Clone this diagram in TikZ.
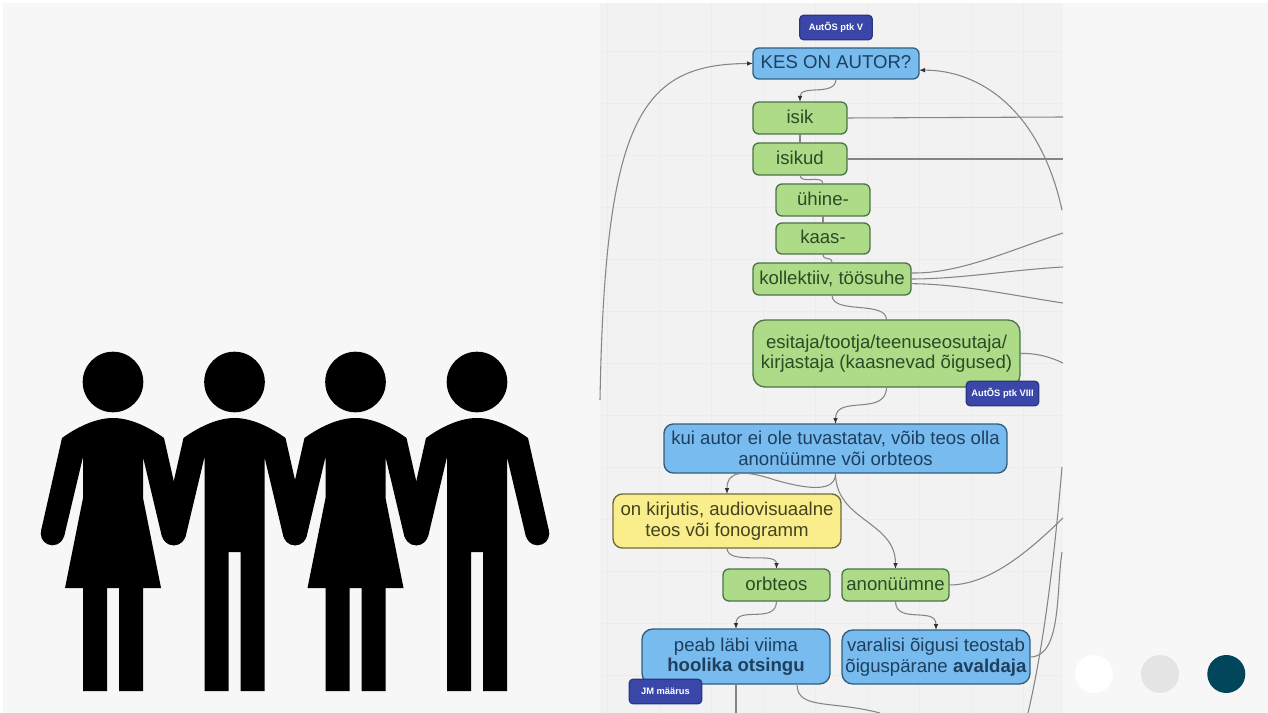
\documentclass[tikz,border=0pt]{standalone}
\usepackage{fontspec}
\setmainfont{Liberation Sans}
\usetikzlibrary{arrows.meta}
\definecolor{pagebg}{HTML}{F7F7F7}
\definecolor{panelbg}{HTML}{F2F2F2}
\definecolor{gridmajor}{HTML}{ECECEC}
\definecolor{blueF}{HTML}{78BBEF}
\definecolor{blueD}{HTML}{2F5F80}
\definecolor{blueT}{HTML}{1E3F5E}
\definecolor{greenF}{HTML}{AEDB87}
\definecolor{greenD}{HTML}{4D7348}
\definecolor{greenT}{HTML}{2B4A26}
\definecolor{yellowF}{HTML}{F9EE8B}
\definecolor{yellowD}{HTML}{6F6A3D}
\definecolor{yellowT}{HTML}{45431F}
\definecolor{badgeF}{HTML}{3B47A8}
\definecolor{badgeD}{HTML}{2C3580}
\definecolor{connC}{HTML}{858585}
\definecolor{dotteal}{HTML}{02465B}
\definecolor{dotgrey}{HTML}{E4E4E4}
\newcommand{\figpart}[2]{%
  \begin{scope}[shift={(#1,0)}]
    \fill[black] (113,382) circle[radius=30.3];
    \fill[black] (52.5,533.5) circle[radius=11.8];
    \fill[black] (173.5,533.5) circle[radius=11.8];
    \fill[black] (62,438) .. controls (80,425) and (98,418) .. (113,418)
      .. controls (128,418) and (146,425) .. (164,438)
      -- (185,531) -- (162,537) -- (143,457) #2 -- (83,457) -- (64,537) -- (41,531) -- cycle;
  \end{scope}}
\newcommand{\ladyfig}[1]{\figpart{#1}{-- (143,498) -- (161,588) -- (143,588) -- (143,691) -- (119,691) -- (119,588) -- (107,588) -- (107,691) -- (83,691) -- (83,588) -- (65,588) -- (83,498)}}
\newcommand{\manfig}[1]{\figpart{#1}{-- (143,691) -- (119,691) -- (119,552) -- (107,552) -- (107,691) -- (83,691)}}
\tikzset{
  x=0.75pt,y=-0.75pt,
  boxbase/.style={draw,line width=1pt,rounded corners=4.5pt,inner sep=0pt,outer sep=0pt,align=center,
    font=\fontsize{13.95}{15.4}\selectfont},
  bluebox/.style={boxbase,fill=blueF,draw=blueD,text=blueT},
  greenbox/.style={boxbase,fill=greenF,draw=greenD,text=greenT},
  yellowbox/.style={boxbase,fill=yellowF,draw=yellowD,text=yellowT,rounded corners=7pt},
  oneline/.style={text height=10pt,text depth=2pt},
  badge/.style={draw=badgeD,fill=badgeF,line width=0.9pt,rounded corners=3pt,inner sep=0pt,outer sep=0pt,
    text=white,minimum width=54.5pt,minimum height=18.5pt,font=\fontsize{7}{8}\selectfont\bfseries},
  conn/.style={draw=connC,line width=0.8pt},
  connarrow/.style={conn,-{Latex[length=4.5pt,width=3.5pt,color=black!80]}},
  dot/.style={circle,inner sep=0pt,minimum size=28.5pt,draw=none},
  bw/.style args={#1x#2}{minimum width=#1*0.75pt,minimum height=#2*0.75pt}
}
\begin{document}
\begin{tikzpicture}
\useasboundingbox (0,0) rectangle (1268,713);
\fill[white] (0,0) rectangle (1268,713);
\fill[pagebg] (3,3) rectangle (1268,713);
\fill[panelbg] (600,3) rectangle (1063,713);
% grid
\foreach \gx in {607,659,711,763,815,867,919,971,1023} \draw[gridmajor,line width=0.5pt] (\gx,3) -- (\gx,713);
\foreach \gy in {51,103,155,207,259,311,363,415,467,519,571,623,675} \draw[gridmajor,line width=0.5pt] (600,\gy) -- (1063,\gy);
% people
\ladyfig{0}
\manfig{121.5}
\ladyfig{242.5}
\manfig{364}
% dots
\node[dot,fill=white] (dotA) at (1094,674) {};
\node[dot,fill=dotgrey] (dotB) at (1160,674) {};
\node[dot,fill=dotteal] (dotC) at (1226.3,674) {};
% nodes
\node[bluebox,oneline,bw=166x31] (kes) at (836,63.5) {KES ON AUTOR?};
\node[greenbox,oneline,bw=94x32] (isik) at (800,118) {isik};
\node[greenbox,oneline,bw=94x32] (isikud) at (800,159) {isikud};
\node[greenbox,oneline,bw=94x32] (yhine) at (823,200) {ühine-};
\node[greenbox,oneline,bw=94x31] (kaas) at (823,238.5) {kaas-};
\node[greenbox,oneline,bw=158x32] (koll) at (832,279) {kollektiiv, töösuhe};
\node[greenbox,bw=267x67,rounded corners=9pt] (esit) at (886.5,353.5) {esitaja/tootja/teenuseosutaja/\\kirjastaja (kaasnevad õigused)};
\node[bluebox,bw=343x49,rounded corners=7pt] (kui) at (835.5,448.5) {kui autor ei ole tuvastatav, võib teos olla\\anonüümne või orbteos};
\node[yellowbox,bw=228x54] (yel) at (727,521) {on kirjutis, audiovisuaalne\\teos või fonogramm};
\node[greenbox,oneline,bw=107x32] (orb) at (776.5,585) {orbteos};
\node[greenbox,oneline,bw=107x32] (ano) at (895.5,585) {anonüümne};
\node[bluebox,bw=188x55,rounded corners=8pt] (peab) at (736,656.5) {peab läbi viima\\\textbf{hoolika otsingu}};
\node[bluebox,bw=188x54,rounded corners=8pt] (var) at (936,657) {varalisi õigusi teostab\\õiguspärane \textbf{avaldaja}};
\node[badge] (bV) at (836,27.5) {AutÕS ptk V};
\node[badge] (bVIII) at (1002.5,393.5) {AutÕS ptk VIII};
\node[badge] (bJM) at (665.5,691.5) {JM määrus};
% free ends
\coordinate (eLeft) at (600,400);
\coordinate (eRight) at (1062,210);
\coordinate (eIsik) at (1063,117);
\coordinate (eIsikud) at (1063,159);
\coordinate (eK1) at (1063,233);
\coordinate (eK2) at (1063,267);
\coordinate (eK3) at (1063,303);
\coordinate (eEsit) at (1063,363);
\coordinate (eAno) at (1063,518);
\coordinate (eVar) at (1062,552);
\coordinate (eLongA) at (1062,467);
\coordinate (eLongB) at (1028,713);
\coordinate (ePeabA) at (736,713);
\coordinate (ePeabB) at (880,713);
\coordinate (sPeabB) at (797,684);
% connectors
\draw[connarrow] (eLeft) .. controls (605,120) and (640,64) .. (kes.west);
\draw[connarrow] (eRight) .. controls (1040,110) and (980,70) .. ([yshift=-5pt]kes.east);
\draw[connarrow] (kes.south) .. controls +(0,18) and +(0,-18) .. (isik.north);
\draw[conn] (isik.south) -- (isikud.north);
\draw[conn] (isikud.south) .. controls +(0,10) and +(0,-10) .. (yhine.north);
\draw[conn] (yhine.south) -- (kaas.north);
\draw[conn] (kaas.south) .. controls +(0,8) and +(0,-8) .. (koll.north);
\draw[conn] (koll.south) .. controls +(0,20) and +(0,-20) .. (esit.north);
\draw[connarrow] (esit.south) .. controls +(0,30) and +(0,-30) .. (kui.north);
\draw[connarrow] (kui.south) .. controls (836,492) and (810,490) .. (775,480) .. controls (745,470) and (727,470) .. (yel.north);
\draw[connarrow] (kui.south) .. controls +(0,48) and +(0,-48) .. (ano.north);
\draw[connarrow] (yel.south) .. controls +(0,18) and +(0,-18) .. (orb.north);
\draw[connarrow] (orb.south) .. controls +(0,24) and +(0,-24) .. (peab.north);
\draw[connarrow] (ano.south) .. controls +(0,24) and +(0,-24) .. (var.north);
\draw[conn] (isik.east) -- (eIsik);
\draw[conn] (isikud.east) -- (eIsikud);
\draw[conn] ([yshift=4.5pt]koll.east) .. controls (960,274) and (1010,250) .. (eK1);
\draw[conn] (koll.east) .. controls (960,279) and (1010,270) .. (eK2);
\draw[conn] ([yshift=-3.5pt]koll.east) .. controls (960,284) and (1010,295) .. (eK3);
\draw[conn] (esit.east) .. controls (1035,353) and (1048,356) .. (eEsit);
\draw[conn] (ano.east) .. controls (990,585) and (1030,550) .. (eAno);
\draw[conn] (var.east) .. controls (1062,657) and (1056,590) .. (eVar);
\draw[conn] (eLongA) .. controls (1055,550) and (1045,640) .. (eLongB);
\draw[conn] (peab.south) -- (ePeabA);
\draw[conn] (sPeabB) .. controls (797,710) and (830,700) .. (ePeabB);
\end{tikzpicture}
\end{document}
